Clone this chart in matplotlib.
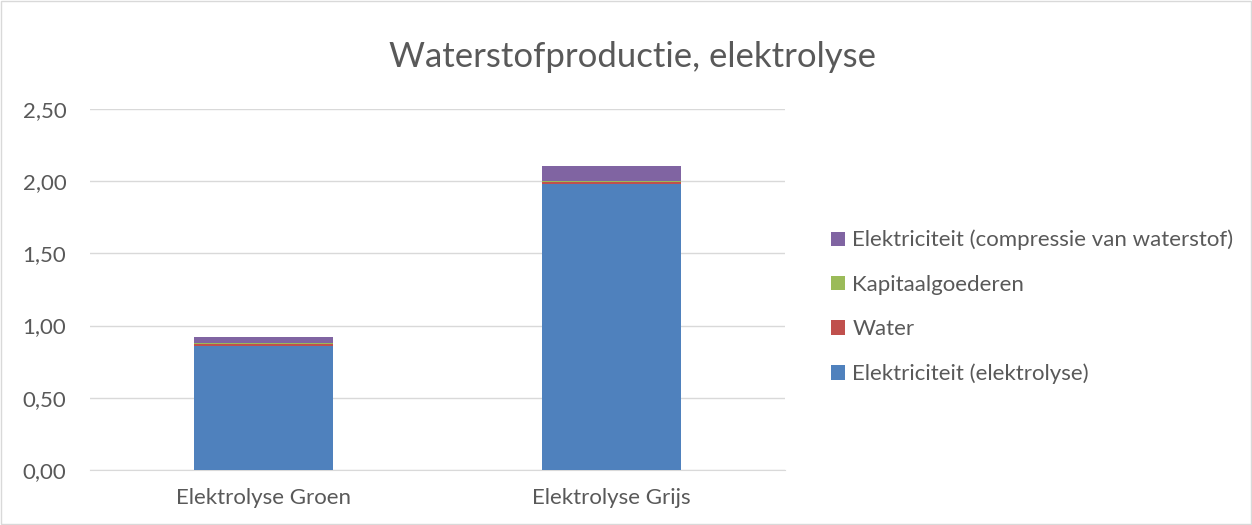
import matplotlib.pyplot as plt
from matplotlib.patches import Rectangle

categories = ['Elektrolyse Groen', 'Elektrolyse Grijs']
elek_elektrolyse = [0.86, 1.98]
water = [0.015, 0.017]
kapitaal = [0.002, 0.003]
elek_compressie = [0.043, 0.105]

series = [
    ('Elektriciteit (elektrolyse)', elek_elektrolyse, '#4F81BD'),
    ('Water', water, '#C0504D'),
    ('Kapitaalgoederen', kapitaal, '#9BBB59'),
    ('Elektriciteit (compressie van waterstof)', elek_compressie, '#8064A2'),
]

plt.rcParams['font.family'] = ['Lato', 'DejaVu Sans']
txt = '#595959'

fig = plt.figure(figsize=(12.52, 5.25), dpi=100)
fig.patches.append(Rectangle((0.001, 0.001), 0.998, 0.997, transform=fig.transFigure,
                             fill=False, edgecolor='#D9D9D9', linewidth=1))
ax = fig.add_axes([0.0719, 0.1048, 0.5551, 0.6876])

x = range(len(categories))
bottom = [0.0] * len(categories)
handles = []
for name, vals, col in series:
    b = ax.bar(x, vals, width=0.4, bottom=bottom, color=col, label=name, zorder=3)
    handles.append(b)
    bottom = [bo + v for bo, v in zip(bottom, vals)]

ax.set_xlim(-0.5, 1.5)
ax.set_ylim(0, 2.5)
ax.set_yticks([0, 0.5, 1.0, 1.5, 2.0, 2.5])
ax.set_yticklabels(['0,00', '0,50', '1,00', '1,50', '2,00', '2,50'])
ax.set_xticks(list(x))
ax.set_xticklabels(categories)
ax.tick_params(axis='both', length=0, labelsize=16, colors=txt)
ax.tick_params(axis='x', pad=13)
ax.tick_params(axis='y', pad=17)
ax.grid(axis='y', color='#D9D9D9', linewidth=1, zorder=0)
for s in ['left', 'right', 'top']:
    ax.spines[s].set_visible(False)
ax.spines['bottom'].set_color('#D9D9D9')

fig.text(0.505, 0.892, 'Waterstofproductie, elektrolyse', ha='center', va='center',
         fontsize=25, color=txt)

leg = fig.legend(handles[::-1], [s[0] for s in series][::-1], loc='center left',
                 bbox_to_anchor=(0.648, 0.415), frameon=False, fontsize=16,
                 labelcolor=txt, handlelength=0.6, handleheight=0.6,
                 handletextpad=0.35, labelspacing=1.1)

fig.savefig('out.png', dpi=100)
